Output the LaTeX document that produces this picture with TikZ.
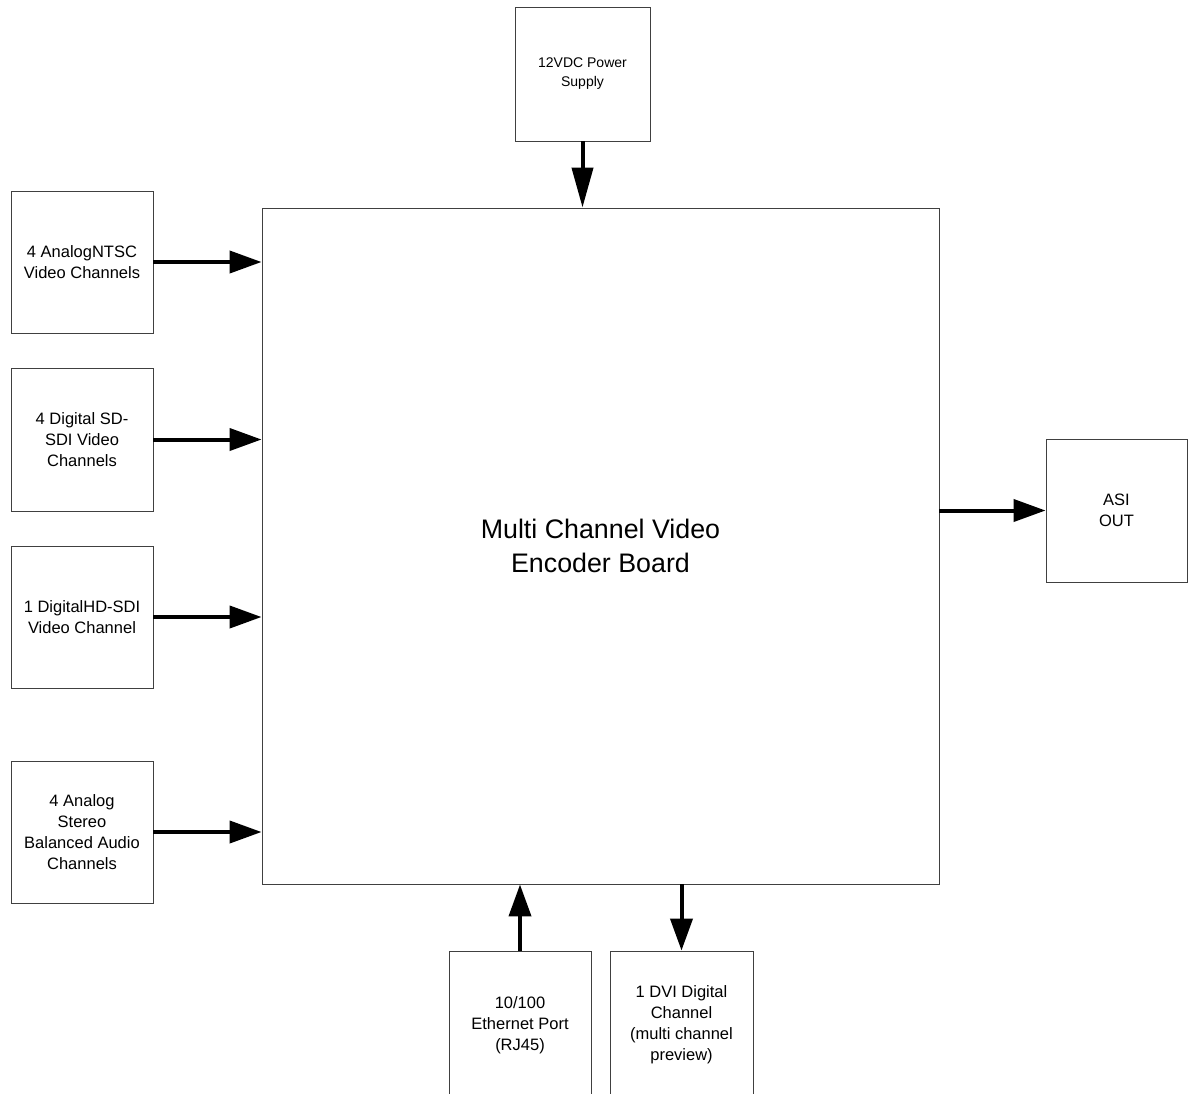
\documentclass[tikz,border=0pt]{standalone}
\usepackage{fontspec}
\setmainfont{Liberation Sans}
\usetikzlibrary{arrows.meta}
\begin{document}
\begin{tikzpicture}[x=1pt,y=-1pt,
  blk/.style={draw=black!75, line width=0.9pt, rectangle, align=center, inner sep=2pt,
    font=\fontsize{16.5}{21}\selectfont},
  arr/.style={line width=4pt, -{Triangle[length=32pt,width=22pt]}},
  longarr/.style={line width=4pt, -{Triangle[length=40pt,width=21pt]}}]
\useasboundingbox (0,0) rectangle (1189,1093);
\fill[white] (0,0) rectangle (1189,1093);
\node[blk, minimum width=677pt, minimum height=676pt, font=\fontsize{26.8}{34}\selectfont] (main) at (600.5,546) {Multi Channel Video\\Encoder Board};
\node[blk, minimum width=135pt, minimum height=134pt, font=\fontsize{14}{19}\selectfont] (power) at (582.5,74) {12VDC Power\\Supply};
\node[blk, minimum width=142pt, minimum height=142pt] (ntsc) at (82,262) {4 AnalogNTSC\\Video Channels};
\node[blk, minimum width=142pt, minimum height=143pt] (sdi) at (82,439.5) {4 Digital SD-\\SDI Video\\Channels};
\node[blk, minimum width=142pt, minimum height=142pt] (hd) at (82,617) {1 DigitalHD-SDI\\Video Channel};
\node[blk, minimum width=142pt, minimum height=142pt] (audio) at (82,832) {4 Analog\\Stereo\\Balanced Audio\\Channels};
\node[blk, minimum width=141pt, minimum height=143pt] (asi) at (1116.5,510.5) {ASI\\OUT};
\node[blk, minimum width=142pt, minimum height=148pt] (eth) at (520,1025) {10/100\\Ethernet Port\\(RJ45)};
\node[blk, minimum width=143pt, minimum height=148pt] (dvi) at (681.5,1025) {1 DVI Digital\\Channel\\(multi channel\\preview)};
\draw[longarr] (power.south) -- (power.south |- main.north);
\draw[arr] (ntsc.east) -- (ntsc.east -| main.west);
\draw[arr] (sdi.east) -- (sdi.east -| main.west);
\draw[arr] (hd.east) -- (hd.east -| main.west);
\draw[arr] (audio.east) -- (audio.east -| main.west);
\draw[arr] (asi.west -| main.east) -- (asi.west);
\draw[arr] (eth.north) -- (eth.north |- main.south);
\draw[arr] (dvi.north |- main.south) -- (dvi.north);
\end{tikzpicture}
\end{document}
